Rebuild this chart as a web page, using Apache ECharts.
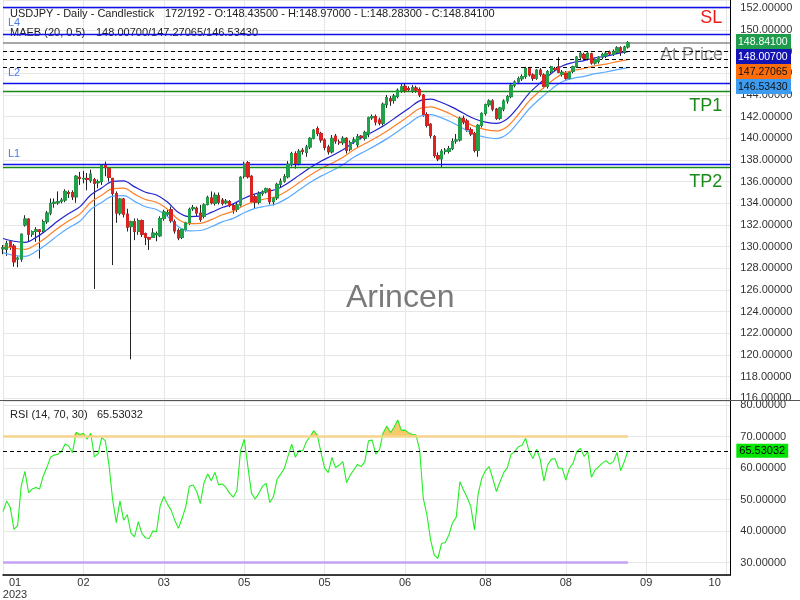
<!DOCTYPE html>
<html><head><meta charset="utf-8">
<script src="https://cdn.jsdelivr.net/npm/echarts@6/dist/echarts.min.js"></script>
<style>html,body{margin:0;padding:0;background:#fff}#c{width:800px;height:600px}</style>
</head><body><div id="c"></div>
<script>
// ---------- DATA ----------
const open = [
129.80,129.75,130.45,130.05,128.85,128.85,132.00,132.55,131.15,131.40,
131.55,131.45,132.30,133.10,134.00,134.05,134.20,134.30,135.00,135.00,
134.60,136.40,136.25,136.30,136.10,136.20,135.90,136.00,137.50,137.20,
136.30,134.90,133.10,134.40,133.00,131.85,132.30,131.40,132.40,131.20,
130.85,130.85,131.10,131.00,132.60,133.00,133.40,132.30,131.50,130.85,
131.60,132.20,133.50,133.55,133.10,132.80,133.90,134.50,134.00,134.70,
134.30,134.05,134.15,133.80,133.45,133.85,136.50,137.75,136.50,134.60,
134.10,134.90,135.05,135.30,134.15,134.50,135.75,136.05,136.45,137.60,
138.60,137.70,138.90,138.70,139.20,140.00,140.90,140.45,139.85,139.20,
138.75,140.20,139.65,139.60,140.00,139.00,139.70,139.40,140.20,140.00,
140.40,141.90,142.00,141.70,141.40,143.10,143.65,143.50,143.85,144.40,
144.80,144.60,144.40,144.65,144.50,144.00,142.20,141.30,140.15,138.40,
138.10,138.80,138.80,139.05,139.75,139.85,141.85,141.60,140.80,140.45,
138.90,141.20,142.30,143.10,143.45,142.70,141.85,142.70,143.45,143.85,
144.90,145.20,145.50,145.70,146.45,145.85,145.55,146.30,145.85,144.80,
146.15,146.45,146.60,145.90,146.00,145.55,146.20,146.60,147.50,147.75,
147.40,147.80,146.95,147.10,147.50,147.60,147.95,147.75,147.95,148.35,
147.95,148.435];
const high = [
130.15,130.55,130.60,130.25,129.10,131.20,132.90,132.60,131.50,131.80,
131.60,132.50,133.30,134.45,134.45,135.10,134.50,135.30,135.20,135.20,
136.60,136.90,137.00,136.80,137.10,136.35,136.20,137.60,137.85,137.30,
136.35,135.10,134.50,134.50,133.50,132.40,132.60,132.60,132.50,131.30,
130.90,131.70,131.40,132.80,133.40,133.40,133.70,132.50,131.70,131.70,
132.30,133.60,133.85,133.70,133.85,134.00,134.70,135.10,135.00,135.00,
134.50,134.40,134.30,134.00,134.10,136.50,137.85,137.90,136.60,134.80,
135.10,135.20,135.45,135.40,134.60,135.90,136.30,136.70,137.90,138.75,
138.80,139.00,139.10,139.40,140.10,140.85,141.10,140.60,140.00,139.40,
140.30,140.40,139.90,140.20,140.10,139.80,140.10,140.40,140.30,140.70,
142.00,142.20,142.20,141.90,143.30,144.00,143.90,144.10,144.60,145.00,
145.05,144.80,144.90,144.85,144.70,144.10,142.40,141.40,140.30,138.70,
139.00,139.10,139.30,140.00,140.40,142.00,142.10,141.80,141.00,140.60,
141.30,142.40,143.20,143.60,143.60,142.80,142.90,143.60,144.00,145.00,
145.35,145.70,145.90,146.60,146.60,146.00,146.40,146.50,146.00,146.30,
146.70,146.60,147.50,146.30,146.20,146.20,146.70,147.60,147.95,147.90,
147.95,147.90,147.35,147.60,147.90,148.00,148.10,148.20,148.50,148.50,
148.55,148.97];
const low = [
129.30,129.15,129.70,128.15,128.10,128.60,131.85,130.45,130.90,130.45,
128.90,131.30,132.10,132.90,133.60,133.85,134.00,134.10,134.50,134.30,
134.05,135.70,135.85,135.20,135.90,126.10,135.40,135.70,136.50,136.00,
128.30,132.20,132.90,132.70,131.40,119.60,130.60,131.10,130.90,130.15,
129.70,130.80,130.50,130.90,132.40,132.80,132.20,131.20,130.60,130.70,
131.40,132.00,133.30,132.80,132.30,132.60,133.80,133.90,133.80,133.90,
133.80,133.90,133.65,133.05,133.20,133.70,136.30,136.30,134.00,133.50,
133.90,134.70,134.90,133.90,133.80,134.30,135.50,135.90,136.30,137.40,
137.20,137.50,138.50,138.30,139.00,139.90,140.20,139.60,138.90,138.50,
138.60,139.50,139.40,139.40,138.60,138.80,139.50,139.20,139.90,139.80,
140.10,141.70,141.20,141.20,141.20,142.80,143.00,143.20,143.70,144.20,
144.20,144.30,144.20,144.20,143.80,142.00,141.00,140.00,138.20,137.90,
137.30,138.50,138.60,138.90,139.50,139.70,141.30,140.60,140.20,138.70,
138.30,141.00,142.10,142.90,142.50,141.70,141.70,142.50,143.20,143.70,
144.70,145.00,145.30,145.50,145.70,145.30,145.40,145.70,144.60,144.60,
146.00,146.20,146.00,145.70,145.40,145.40,146.00,146.50,147.30,147.20,
147.20,146.80,146.80,146.90,147.30,147.40,147.60,147.60,147.80,147.60,
147.80,148.283];
const close = [
129.90,130.30,130.00,128.60,128.95,131.15,132.55,131.15,131.40,131.55,
131.40,132.30,133.10,134.00,134.10,134.15,134.30,135.10,134.90,134.60,
136.50,136.30,136.30,136.20,136.70,135.85,136.00,137.50,137.30,136.40,
134.90,133.10,134.40,133.00,131.80,132.30,131.40,132.40,131.15,130.85,
130.70,131.25,131.20,132.60,133.20,133.15,132.40,131.45,130.80,131.60,
132.20,133.45,133.60,133.10,132.50,133.85,134.55,134.05,134.75,134.10,
134.00,134.20,133.80,133.40,133.85,136.40,137.60,136.45,134.15,134.10,
134.90,135.05,135.35,134.15,134.50,135.75,136.05,136.45,137.60,138.60,
137.70,138.80,138.80,139.20,140.00,140.75,140.45,139.85,139.15,138.75,
140.00,139.75,139.60,140.00,138.90,139.60,139.85,140.15,140.10,140.55,
141.90,142.00,141.50,141.40,143.15,143.75,143.45,143.90,144.45,144.75,
144.40,144.50,144.70,144.45,144.00,142.20,141.20,140.25,138.40,138.10,
138.80,138.90,139.05,139.70,139.85,141.85,141.50,140.80,140.40,138.90,
141.20,142.30,143.10,143.45,142.70,141.85,142.80,143.45,143.85,144.90,
145.20,145.50,145.70,146.45,145.85,145.55,146.30,145.90,144.80,146.15,
146.60,146.35,146.10,146.10,145.55,146.10,146.60,147.50,147.85,147.40,
147.85,146.95,147.25,147.50,147.75,147.85,147.80,148.00,148.35,147.95,
148.43,148.841];

const rsi = [
46.2,49.6,47.5,40.6,41.8,54.5,59.0,52.2,53.4,53.9,
53.4,57.5,60.2,63.5,64.2,64.4,65.3,67.7,67.0,64.9,
71.4,70.7,71.1,69.2,71.1,63.6,64.5,69.7,68.7,61.0,
50.0,42.7,49.6,43.5,45.3,39.5,38.2,43.0,39.3,37.9,
37.7,40.1,39.8,48.0,51.0,48.6,46.7,43.5,40.9,44.1,
47.8,54.3,54.7,52.6,48.8,55.4,58.2,56.0,58.7,54.7,
55.0,53.9,52.0,50.8,52.9,65.6,69.2,60.5,52.0,50.2,
52.0,54.3,55.2,49.1,51.0,56.5,58.2,60.0,63.9,67.6,
63.5,65.6,65.5,68.4,70.0,71.9,70.5,65.0,60.0,58.6,
63.4,60.2,61.0,62.1,55.4,57.8,59.5,61.2,60.5,62.1,
68.7,68.9,64.5,65.8,71.1,73.4,71.3,73.0,75.3,72.0,
72.1,71.2,70.7,70.6,65.8,50.4,45.1,37.2,32.4,31.4,
36.1,36.4,38.8,42.7,44.4,55.7,53.1,50.7,47.8,40.4,
51.8,56.8,59.2,60.5,56.8,52.6,55.7,58.6,60.2,64.4,
65.2,66.8,67.3,69.5,65.2,63.1,66.0,62.8,55.9,61.0,
62.8,63.1,60.0,60.0,56.2,60.0,61.6,65.3,66.3,63.7,
65.3,57.1,59.4,60.5,61.6,62.4,61.3,62.1,65.0,59.2,
62.1,65.53032];

// Moving-average envelope (MAEB 20, 0.5), read every 3rd bar
const maIndex = [0,3,6,9,12,15,18,21,24,27,30,33,36,39,42,45,48,51,54,57,60,63,66,69,72,75,78,81,84,87,90,93,96,99,102,105,108,111,114,117,120,123,126,129,132,135,138,141,144,147,150,153,156,159,162,165,168,171];
const maUpper = [130.75,130.50,130.40,130.85,131.55,132.36,133.06,133.67,134.77,135.42,136.03,136.08,135.52,135.02,134.77,134.12,133.16,132.78,132.81,133.16,133.61,133.95,134.47,134.87,135.09,135.32,135.88,136.58,137.28,137.89,138.39,138.94,139.64,140.20,140.75,141.35,142.06,142.76,143.46,143.61,143.31,142.86,142.31,141.81,141.50,141.38,141.81,142.91,144.17,145.12,145.98,146.68,147.00,147.18,147.43,147.58,147.82,148.007];
const maMid = [130.10,129.85,129.75,130.20,130.90,131.70,132.40,133.00,134.10,134.75,135.35,135.40,134.85,134.35,134.10,133.45,132.50,132.12,132.15,132.50,132.95,133.28,133.80,134.20,134.42,134.65,135.20,135.90,136.60,137.20,137.70,138.25,138.95,139.50,140.05,140.65,141.35,142.05,142.75,142.90,142.60,142.15,141.60,141.10,140.80,140.68,141.10,142.20,143.45,144.40,145.25,145.95,146.27,146.45,146.70,146.85,147.08,147.27065];
const maLower = [129.45,129.20,129.10,129.55,130.25,131.04,131.74,132.34,133.43,134.08,134.67,134.72,134.18,133.68,133.43,132.78,131.84,131.46,131.49,131.84,132.29,132.61,133.13,133.53,133.75,133.98,134.52,135.22,135.92,136.51,137.01,137.56,138.26,138.80,139.35,139.95,140.64,141.34,142.04,142.19,141.89,141.44,140.89,140.39,140.10,139.98,140.39,141.49,142.73,143.68,144.52,145.22,145.54,145.72,145.97,146.12,146.34,146.5343];

const xTickLabels = ['01','02','03','05','05','06','08','08','09','10'];
const xTickYear = '2023';
const levelNames  = ['SL','L4','L2','TP1','L1','TP2'];
const levelPrices = [152.1,149.653,145.045,144.357,137.617,137.344];
const levelKinds  = ['stop','level','level','target','level','target'];
const lastClose = 148.841;
const maLast = [148.00700,147.27065,146.53430];
const rsiLast = 65.53032;
const rsiLevels = [70,30];

// ---------- CHART ----------
const FONT = '"Liberation Sans", Arial, sans-serif';
const nSlots = 200, tickStep = 22;
const categories = Array.from({length:nSlots},(_,i)=>String(i));
const isTick = i => i % tickStep === 0;
const lastIdx = close.length - 1;

const candleBase = open.map((o,i)=>[o, close[i], low[i], high[i]]);
const candleBody = open.map((o,i)=>[o, close[i], Math.min(o,close[i]), Math.max(o,close[i])]);
const maPts = arr => maIndex.map((x,k)=>[x, arr[k]]);

const lvlColor = {stop:'#1010ee', level:'#1010ee', target:'#178a17'};
const valLabel = (p, txt) => [{coord:[174,p], lineStyle:{opacity:0},
  label:{show:true, position:'insideStartTop', formatter:txt, color:'#5b8ef0', fontSize:11, fontFamily:FONT, distance:[5,1]}},
  {coord:[nSlots-1,p]}];
const mlData = [];
levelPrices.forEach((p,k)=>{
  const kind = levelKinds[k];
  const lbl = kind === 'level'
    ? {show:true, position:'insideStartTop', formatter:levelNames[k], color:'#4a7cf0', fontSize:11, fontFamily:FONT, distance:[5,5]}
    : {show:true, position:'insideEndBottom', formatter:levelNames[k], color: kind==='stop'?'#ee1a1a':'#1a8a1a', fontSize:18, fontFamily:FONT, distance:[8, kind==='stop'?2:6]};
  mlData.push({yAxis:p, lineStyle:{color:lvlColor[kind], width:1.4, type:'solid'}, label:lbl});
  if (kind !== 'stop') mlData.push(valLabel(p, p.toFixed(3)));
});
mlData.push({yAxis:lastClose, lineStyle:{color:'#8a8a8a', width:1.5, type:'solid'}, label:{show:false}});
mlData.push(valLabel(lastClose, lastClose.toFixed(3)));
maLast.forEach(v=>mlData.push({yAxis:v, lineStyle:{color:'#000', width:1, type:[4,3]}, label:{show:false}}));

const gridLine = {color:'#e6e6e6', width:1};
const option = {
  animation:false,
  textStyle:{fontFamily:FONT},
  grid:[
    {left:3, right:69.7, top:0, height:400, containLabel:false, outerBoundsMode:'none'},
    {left:3, right:69.7, top:401, height:174, containLabel:false, outerBoundsMode:'none'}
  ],
  xAxis:[
    {type:'category', gridIndex:0, data:categories, boundaryGap:false,
     axisLine:{show:false}, axisTick:{show:false}, axisLabel:{show:false},
     splitLine:{show:true, interval:(i)=>isTick(i), lineStyle:gridLine}},
    {type:'category', gridIndex:1, data:categories, boundaryGap:false,
     axisLine:{show:true, lineStyle:{color:'#000', width:1.5}}, axisTick:{show:false},
     axisLabel:{interval:(i)=>isTick(i), margin:2, color:'#333', fontSize:11, fontFamily:FONT, lineHeight:12,
       formatter:(v,i)=>{
         if(!isTick(i)) return '';
         const k = i/tickStep, t = xTickLabels[k];
         if (k===0) return '{l|'+t+'}\n{l|'+xTickYear+'}';
         if (k===xTickLabels.length-1) return '{r|'+t+'}';
         return t;
       },
       rich:{l:{padding:[0,0,0,24], fontSize:11, color:'#333', lineHeight:12},
             r:{padding:[0,24,0,0], fontSize:11, color:'#333'}}},
     splitLine:{show:true, interval:(i)=>isTick(i), lineStyle:gridLine}}
  ],
  yAxis:[
    {type:'value', gridIndex:0, position:'right', min:115.845, max:152.769, splitNumber:18,
     axisLine:{show:true, lineStyle:{color:'#000', width:1}}, axisTick:{show:false},
     axisLabel:{showMinLabel:false, showMaxLabel:false, margin:10, color:'#333', fontSize:11, fontFamily:FONT, formatter:v=>v.toFixed(5)},
     splitLine:{lineStyle:gridLine}},
    {type:'value', gridIndex:1, position:'right', min:26.1, max:81.33, splitNumber:5,
     axisLine:{show:true, lineStyle:{color:'#000', width:1}}, axisTick:{show:false},
     axisLabel:{showMinLabel:false, showMaxLabel:false, margin:10, color:'#333', fontSize:11, fontFamily:FONT, formatter:v=>v.toFixed(5)},
     splitLine:{lineStyle:gridLine}}
  ],
  series:[
    {name:'wick', type:'candlestick', xAxisIndex:0, yAxisIndex:0, data:candleBase, barWidth:2.9, clip:false, z:3,
     itemStyle:{color:'#222', color0:'#222', borderColor:'#222', borderColor0:'#222', borderWidth:1}},
    {name:'MA upper', type:'line', xAxisIndex:0, yAxisIndex:0, data:maPts(maUpper), showSymbol:false, smooth:0.35, z:4,
     lineStyle:{color:'#2222cc', width:1.2}},
    {name:'MA mid', type:'line', xAxisIndex:0, yAxisIndex:0, data:maPts(maMid), showSymbol:false, smooth:0.35, z:4,
     lineStyle:{color:'#ff7f27', width:1.2}},
    {name:'MA lower', type:'line', xAxisIndex:0, yAxisIndex:0, data:maPts(maLower), showSymbol:false, smooth:0.35, z:4,
     lineStyle:{color:'#5aaaff', width:1.2}},
    {name:'body', type:'candlestick', xAxisIndex:0, yAxisIndex:0, data:candleBody, barWidth:2.9, clip:false, z:5,
     itemStyle:{color:'#1fa24a', color0:'#dd2222', borderColor:'#1fa24a', borderColor0:'#dd2222', borderWidth:1},
     markLine:{silent:true, symbol:['none','none'], animation:false, data:mlData}},
    {name:'RSI fill', type:'line', xAxisIndex:1, yAxisIndex:1, data:rsi.map(v=>Math.max(v,rsiLevels[0])),
     showSymbol:false, lineStyle:{width:0, opacity:0}, areaStyle:{color:'#f8c45c', opacity:0.9, origin:rsiLevels[0]}, z:2},
    {name:'RSI', type:'line', xAxisIndex:1, yAxisIndex:1, data:rsi, showSymbol:false, z:4,
     lineStyle:{color:'#22ee22', width:1.1},
     markLine:{silent:true, symbol:['none','none'], animation:false, data:[
       [{coord:[0,rsiLevels[0]], lineStyle:{color:'#f7d48c', width:2.5, type:'solid'}, label:{show:false}},{coord:[lastIdx,rsiLevels[0]]}],
       [{coord:[0,rsiLevels[1]], lineStyle:{color:'#c4a2f4', width:2.5, type:'solid'}, label:{show:false}},{coord:[lastIdx,rsiLevels[1]]}],
       {yAxis:rsiLast, lineStyle:{color:'#000', width:1, type:[4,3]},
        label:{show:true, position:'end', distance:6, formatter:rsiLast.toFixed(5), color:'#000', backgroundColor:'#00e600',
               padding:[2,3,1,3], fontSize:11, fontFamily:FONT}}
     ]}}
  ]
};

const chart = echarts.init(document.getElementById('c'));
chart.setOption(option);

const yClose = chart.convertToPixel({yAxisIndex:0}, lastClose);
const boxes = [
  {t:lastClose.toFixed(5), bg:'#1e9b4b', fg:'#ffffff'},
  {t:maLast[0].toFixed(5), bg:'#1414b4', fg:'#ffffff'},
  {t:maLast[1].toFixed(5), bg:'#ff6d0a', fg:'#111111'},
  {t:maLast[2].toFixed(5), bg:'#3d9bf0', fg:'#111111'}
];
const txt = (id,x,y,s,size,fill) => ({type:'text', id, x, y, z:0,
  style:{text:s, fill, font:size+'px '+FONT, verticalAlign:'middle'}});
const graphics = [
  txt('h1',10,14,'USDJPY - Daily - Candlestick',11,'#222'),
  txt('h2',165,14,'172/192 - O:148.43500 - H:148.97000 - L:148.28300 - C:148.84100',11,'#222'),
  txt('m1',10,33,'MAEB (20, 0.5)',11,'#222'),
  txt('m2',96,33,maLast.map(v=>v.toFixed(5)).join('/'),11,'#222'),
  txt('r1',10,415,'RSI (14, 70, 30)',11,'#222'),
  txt('r2',97,415,rsiLast.toFixed(5),11,'#222'),
  txt('wm',346,298,'Arincen',32,'#7a7a7a'),
  txt('ap',660,55,'At Price',18,'#8a8a8a'),
  {type:'line', id:'sep', z:10, shape:{x1:0,y1:400.5,x2:800,y2:400.5}, style:{stroke:'#555', lineWidth:1}}
];
boxes.forEach((b,k)=>{
  const top = Math.round(yClose-8.5+15*k);
  graphics.push({type:'rect', id:'bx'+k, z:10, shape:{x:736, y:top, width:55, height:15}, style:{fill:b.bg}});
  graphics.push({type:'text', id:'bt'+k, z:11, x:738, y:top+8,
    style:{text:b.t, fill:b.fg, font:'10.5px '+FONT, verticalAlign:'middle'}});
});
chart.setOption({graphic:graphics});
</script>
</body></html>
